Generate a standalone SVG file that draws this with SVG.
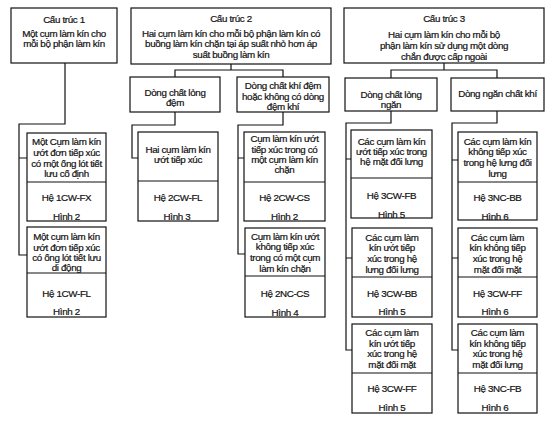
<svg xmlns="http://www.w3.org/2000/svg" width="554" height="423" viewBox="0 0 554 423">
<style>
  .b{fill:#fff;stroke:#111;stroke-width:1.2}
  .d{stroke:#111;stroke-width:1.1;fill:none}
  .c{stroke:#111;stroke-width:1.2;fill:none}
  text{font-family:"Liberation Sans",Arial,sans-serif;font-size:9.8px;letter-spacing:-0.35px;fill:#111;stroke:#111;stroke-width:0.2;text-anchor:middle}
</style>
<rect width="554" height="423" fill="#fff"/>
<g id="connectors" class="c">
  <path d="M65,63 V124 H19 V255 H27 M19,158 H27"/>
  <path d="M231,64 V70 M175,77 V70 H283 V77"/>
  <path d="M444,63 V70 M391,78 V70 H497 V78"/>
  <path d="M175,112 V125 H132 V158 H138"/>
  <path d="M283,112 V125 H238 V254 H245 M238,158 H244"/>
  <path d="M391,111 V123 H346 V350 H352 M346,159 H351 M346,258 H352"/>
  <path d="M497,111 V123 H452 V350 H458 M452,160 H458 M452,258 H458"/>
</g>
<g id="s1"><rect class="b" x="11" y="8" width="106" height="55"/>
  <text x="64" y="22.5">Cấu trúc 1</text><text x="64" y="36.5">Một cụm làm kín cho</text><text x="64" y="47">mỗi bộ phận làm kín</text></g>
<g id="s2"><rect class="b" x="131" y="8" width="200" height="56"/>
  <text x="231" y="22">Cấu trúc 2</text><text x="231" y="36.5">Hai cụm làm kín cho mỗi bộ phận làm kín có</text><text x="231" y="47">buồng làm kín chặn tại áp suất nhỏ hơn áp</text><text x="231" y="57.5">suất buồng làm kín</text></g>
<g id="s3"><rect class="b" x="344" y="8" width="200" height="55"/>
  <text x="444" y="22">Cấu trúc 3</text><text x="444" y="37.5">Hai cụm làm kín cho mỗi bộ</text><text x="444" y="49">phận làm kín sử dụng một dòng</text><text x="444" y="59.5">chắn được cấp ngoài</text></g>
<g id="d1"><rect class="b" x="130" y="77" width="90" height="35"/>
  <text x="175" y="95.5">Dòng chất lỏng</text><text x="175" y="105.5">đệm</text></g>
<g id="d2"><rect class="b" x="237" y="77" width="92" height="35"/>
  <text x="283" y="88.5">Dòng chất khí đệm</text><text x="283" y="99.5">hoặc không có dòng</text><text x="283" y="109.5">đệm khí</text></g>
<g id="d3"><rect class="b" x="345" y="78" width="92" height="33"/>
  <text x="391" y="97.5">Dòng chất lỏng</text><text x="391" y="107.5">ngăn</text></g>
<g id="d4"><rect class="b" x="451" y="78" width="93" height="33"/>
  <text x="497.5" y="96.5">Dòng ngăn chất khí</text></g>
<g id="c1a"><rect class="b" x="27" y="133" width="79" height="88"/><line class="d" x1="27" y1="182" x2="106" y2="182"/>
  <text x="66.5" y="144.5">Một Cụm làm kín</text><text x="66.5" y="155.5">ướt đơn tiếp xúc</text><text x="66.5" y="166.5">có một ống lót tiết</text><text x="66.5" y="176.5">lưu cố định</text>
  <text x="66.5" y="200.5">Hệ 1CW-FX</text><text x="66.5" y="220">Hình 2</text></g>
<g id="c1b"><rect class="b" x="27" y="227" width="79" height="90"/><line class="d" x1="27" y1="273" x2="106" y2="273"/>
  <text x="66.5" y="239.5">Một cụm làm kín</text><text x="66.5" y="250.5">ướt đơn tiếp xúc</text><text x="66.5" y="260.5">có ống lót tiết lưu</text><text x="66.5" y="270.5">di động</text>
  <text x="66.5" y="296.5">Hệ 1CW-FL</text><text x="66.5" y="315">Hình 2</text></g>
<g id="c2a"><rect class="b" x="138" y="132" width="80" height="89"/><line class="d" x1="138" y1="181" x2="218" y2="181"/>
  <text x="178" y="152.5">Hai cụm làm kín</text><text x="178" y="162.5">ướt tiếp xúc</text>
  <text x="178" y="200.5">Hệ 2CW-FL</text><text x="177" y="219.5">Hình 3</text></g>
<g id="c3a"><rect class="b" x="244" y="132" width="81" height="89"/><line class="d" x1="244" y1="182" x2="325" y2="182"/>
  <text x="284.5" y="141.5">Cụm làm kín ướt</text><text x="284.5" y="152.5">tiếp xúc trong có</text><text x="284.5" y="162.5">một cụm làm kín</text><text x="284.5" y="172.5">chặn</text>
  <text x="284.5" y="200.5">Hệ 2CW-CS</text><text x="284.5" y="219.5">Hình 2</text></g>
<g id="c3b"><rect class="b" x="245" y="228" width="80" height="89"/><line class="d" x1="245" y1="276" x2="325" y2="276"/>
  <text x="285" y="239.5">Cụm làm kín ướt</text><text x="285" y="249.5">không tiếp xúc</text><text x="285" y="260.5">trong có một cụm</text><text x="285" y="271.5">làm kín chặn</text>
  <text x="285" y="296.5">Hệ 2NC-CS</text><text x="285" y="315.5">Hình 4</text></g>
<g id="c4a"><rect class="b" x="351" y="130" width="81" height="88"/><line class="d" x1="351" y1="178" x2="432" y2="178"/>
  <text x="391.5" y="144.5">Các cụm làm kín</text><text x="391.5" y="154.5">ướt tiếp xúc trong</text><text x="391.5" y="164.5">hệ mặt đối lưng</text>
  <text x="391.5" y="198.5">Hệ 3CW-FB</text><text x="391.5" y="217.5">Hình 5</text></g>
<g id="c4b"><rect class="b" x="352" y="228" width="80" height="89"/><line class="d" x1="352" y1="277" x2="432" y2="277"/>
  <text x="392" y="240.5">Các cụm làm</text><text x="392" y="250.5">kín ướt tiếp</text><text x="392" y="261.5">xúc trong hệ</text><text x="392" y="272.5">lưng đối lưng</text>
  <text x="392" y="296.5">Hệ 3CW-BB</text><text x="392" y="314.5">Hình 5</text></g>
<g id="c4c"><rect class="b" x="352" y="324" width="80" height="89"/><line class="d" x1="352" y1="373" x2="432" y2="373"/>
  <text x="392" y="335.5">Các cụm làm</text><text x="392" y="346.5">kín ướt tiếp</text><text x="392" y="356.5">xúc trong hệ</text><text x="392" y="367.5">mặt đối mặt</text>
  <text x="392" y="391.5">Hệ 3CW-FF</text><text x="392" y="411">Hình 5</text></g>
<g id="c5a"><rect class="b" x="458" y="132" width="79" height="88"/><line class="d" x1="458" y1="182" x2="537" y2="182"/>
  <text x="497.5" y="144.5">Các cụm làm kín</text><text x="497.5" y="154.5">không tiếp xúc</text><text x="497.5" y="165.5">trong hệ lưng đối</text><text x="497.5" y="176.5">lưng</text>
  <text x="497.5" y="200.5">Hệ 3NC-BB</text><text x="495" y="219.5">Hình 6</text></g>
<g id="c5b"><rect class="b" x="458" y="228" width="79" height="89"/><line class="d" x1="458" y1="277" x2="537" y2="277"/>
  <text x="497.5" y="240.5">Các cụm làm</text><text x="497.5" y="250.5">kín không tiếp</text><text x="497.5" y="261.5">xúc trong hệ</text><text x="497.5" y="272.5">mặt đối mặt</text>
  <text x="497.5" y="296.5">Hệ 3CW-FF</text><text x="495" y="314.5">Hình 6</text></g>
<g id="c5c"><rect class="b" x="458" y="324" width="79" height="89"/><line class="d" x1="458" y1="373" x2="537" y2="373"/>
  <text x="497.5" y="335.5">Các cụm làm</text><text x="497.5" y="346.5">kín không tiếp</text><text x="497.5" y="356.5">xúc trong hệ</text><text x="497.5" y="367.5">mặt đối lưng</text>
  <text x="497.5" y="391.5">Hệ 3NC-FB</text><text x="495" y="411">Hình 6</text></g>
</svg>
